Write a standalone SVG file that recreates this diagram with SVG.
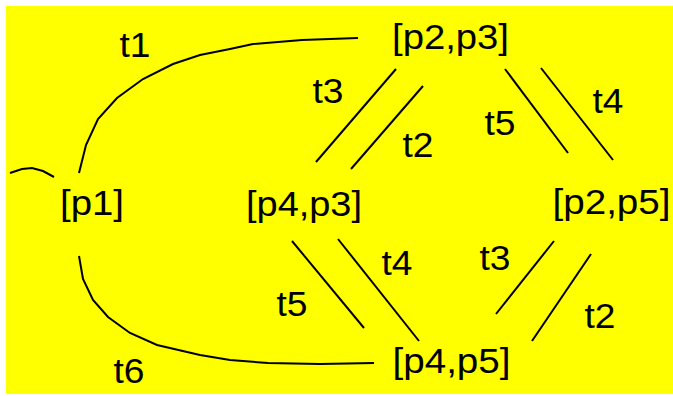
<svg xmlns="http://www.w3.org/2000/svg" width="673" height="396" viewBox="0 0 673 396">
<style>
.lbl{font-family:"Liberation Sans",Arial,sans-serif;font-size:35px;fill:#000;text-anchor:middle}
.edge{fill:none;stroke:#000;stroke-width:2}
</style>
<rect x="0" y="0" width="673" height="396" fill="#fff"/>
<rect x="6" y="6" width="667" height="388" fill="#ffff00"/>
<g id="connectors">
<polyline class="edge" points="79,173 86,145 98,119 117,98 143,79 173,64 200,55 230,49 253,44 302,40 358,38"/>
<polyline class="edge" points="79,256 83,279 93,300 108,317 130,333 157,345 200,355 230,360 268,363 320,364 374,363"/>
<polyline class="edge" points="10,173 22,169 32,168 43,171 54,177"/>
<line class="edge" x1="396" y1="69" x2="316" y2="162"/>
<line class="edge" x1="423" y1="86" x2="351" y2="169"/>
<line class="edge" x1="505" y1="69" x2="568" y2="153"/>
<line class="edge" x1="541" y1="68" x2="613" y2="160"/>
<line class="edge" x1="554" y1="241" x2="496" y2="314"/>
<line class="edge" x1="591" y1="254" x2="532" y2="341"/>
<line class="edge" x1="292" y1="241" x2="364" y2="328"/>
<line class="edge" x1="338" y1="239" x2="419" y2="341"/>
<text class="lbl" x="135" y="57" textLength="31" lengthAdjust="spacingAndGlyphs">t1</text>
<text class="lbl" x="328" y="103" textLength="31" lengthAdjust="spacingAndGlyphs">t3</text>
<text class="lbl" x="418" y="157" textLength="31" lengthAdjust="spacingAndGlyphs">t2</text>
<text class="lbl" x="500" y="135" textLength="31" lengthAdjust="spacingAndGlyphs">t5</text>
<text class="lbl" x="608" y="113" textLength="31" lengthAdjust="spacingAndGlyphs">t4</text>
<text class="lbl" x="495" y="270" textLength="31" lengthAdjust="spacingAndGlyphs">t3</text>
<text class="lbl" x="600" y="328" textLength="31" lengthAdjust="spacingAndGlyphs">t2</text>
<text class="lbl" x="397" y="275" textLength="31" lengthAdjust="spacingAndGlyphs">t4</text>
<text class="lbl" x="292" y="316" textLength="31" lengthAdjust="spacingAndGlyphs">t5</text>
<text class="lbl" x="129" y="383" textLength="31" lengthAdjust="spacingAndGlyphs">t6</text>
</g>
<g id="node-p1"><text class="lbl" x="92" y="215" textLength="64" lengthAdjust="spacingAndGlyphs">[p1]</text></g>
<g id="node-p2p3"><text class="lbl" x="450.5" y="49" textLength="117" lengthAdjust="spacingAndGlyphs">[p2,p3]</text></g>
<g id="node-p4p3"><text class="lbl" x="304" y="216" textLength="116" lengthAdjust="spacingAndGlyphs">[p4,p3]</text></g>
<g id="node-p2p5"><text class="lbl" x="611.5" y="214" textLength="118" lengthAdjust="spacingAndGlyphs">[p2,p5]</text></g>
<g id="node-p4p5"><text class="lbl" x="451.5" y="373" textLength="118" lengthAdjust="spacingAndGlyphs">[p4,p5]</text></g>
</svg>
